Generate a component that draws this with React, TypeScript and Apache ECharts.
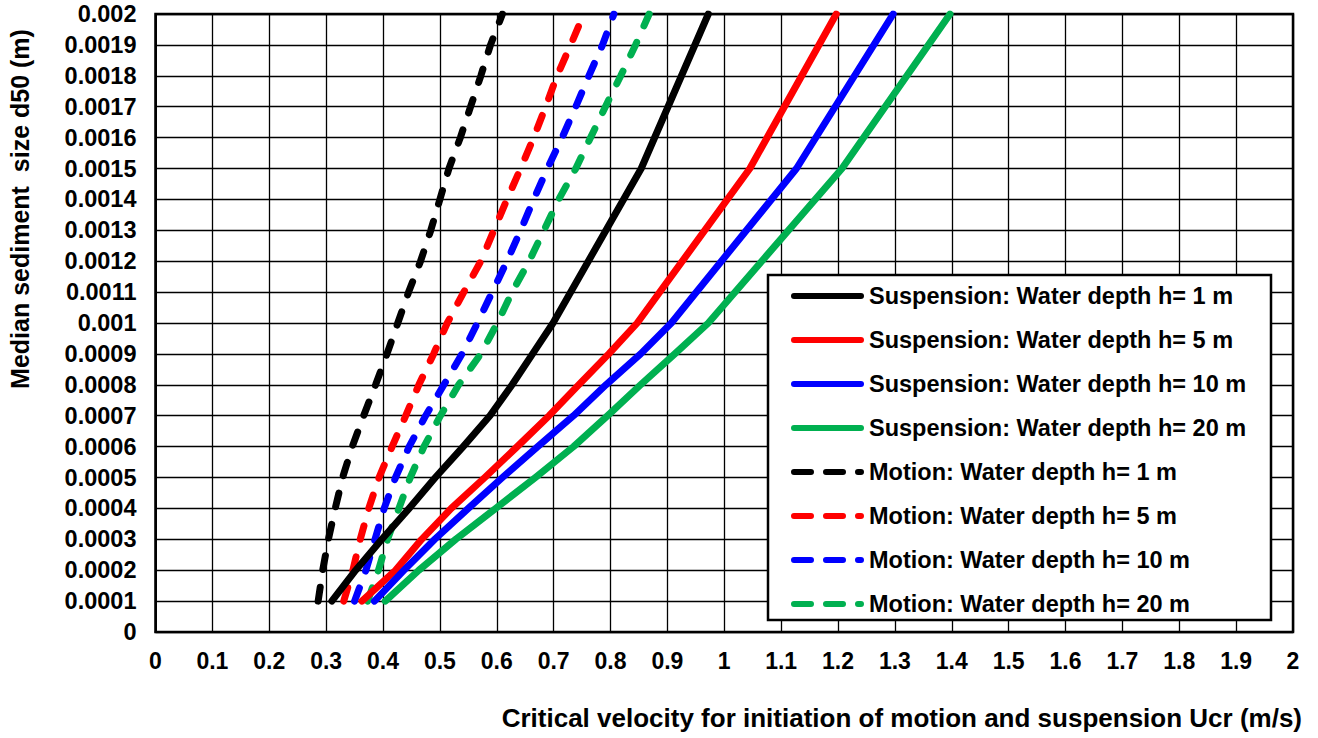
import React, { useEffect, useRef } from "react";
import * as echarts from "echarts";

// Median sediment size d50 (m) levels
const dSuspension = [0.0001, 0.0002, 0.0003, 0.0004, 0.0005, 0.0006, 0.0007, 0.0008, 0.0009, 0.001, 0.0015, 0.002];
const dMotion = [0.0001, 0.0002, 0.0003, 0.0004, 0.0005, 0.0006, 0.0007, 0.0008, 0.0009, 0.001, 0.0011, 0.0012, 0.0013, 0.0014, 0.0015, 0.0016, 0.0017, 0.0018, 0.0019, 0.002];

// Critical velocity Ucr (m/s) for suspension
const suspH1 = [0.31, 0.352, 0.398, 0.446, 0.492, 0.541, 0.588, 0.627, 0.663, 0.699, 0.854, 0.972];
const suspH5 = [0.363, 0.422, 0.468, 0.52, 0.579, 0.636, 0.692, 0.744, 0.797, 0.847, 1.045, 1.197];
const suspH10 = [0.385, 0.437, 0.491, 0.55, 0.61, 0.672, 0.735, 0.792, 0.853, 0.907, 1.127, 1.297];
const suspH20 = [0.404, 0.463, 0.528, 0.598, 0.668, 0.735, 0.795, 0.853, 0.913, 0.972, 1.207, 1.397];

// Critical velocity Ucr (m/s) for initiation of motion
const motH1 = [0.286, 0.294, 0.304, 0.316, 0.329, 0.346, 0.366, 0.387, 0.407, 0.426, 0.445, 0.466, 0.484, 0.5, 0.516, 0.536, 0.554, 0.572, 0.589, 0.61];
const motH5 = [0.331, 0.347, 0.36, 0.375, 0.393, 0.416, 0.44, 0.463, 0.489, 0.513, 0.542, 0.572, 0.595, 0.618, 0.642, 0.665, 0.686, 0.706, 0.73, 0.753];
const motH10 = [0.35, 0.37, 0.386, 0.402, 0.422, 0.446, 0.475, 0.507, 0.539, 0.566, 0.592, 0.618, 0.642, 0.665, 0.689, 0.715, 0.739, 0.762, 0.786, 0.806];
const motH20 = [0.373, 0.392, 0.408, 0.428, 0.448, 0.472, 0.501, 0.533, 0.572, 0.601, 0.627, 0.657, 0.683, 0.709, 0.739, 0.765, 0.791, 0.818, 0.844, 0.868];

const seriesNames = [
  "Suspension: Water depth h= 1 m",
  "Suspension: Water depth h= 5 m",
  "Suspension: Water depth h= 10 m",
  "Suspension: Water depth h= 20 m",
  "Motion: Water depth h= 1 m",
  "Motion: Water depth h= 5 m",
  "Motion: Water depth h= 10 m",
  "Motion: Water depth h= 20 m",
];
const colors = ["#000000", "#FF0000", "#0000FF", "#00B050"];

const FONT = "'Liberation Sans', Arial, sans-serif";

const seg = (a: number, b: number) =>
  `M${a + 3},0 H${b - 3} A3,3 0 0 1 ${b - 3},6 H${a + 3} A3,3 0 0 1 ${a + 3},0 Z`;
const SOLID_ICON = "path://" + seg(0, 73);
const DASH_ICON = "path://" + seg(0, 23) + " " + seg(32, 55) + " " + seg(64, 73);

export default function App() {
  const ref = useRef<HTMLDivElement>(null);
  useEffect(() => {
    if (!ref.current) return;
    const chart = echarts.init(ref.current, undefined, { renderer: "svg" });
    const susp = [suspH1, suspH5, suspH10, suspH20];
    const mot = [motH1, motH5, motH10, motH20];
    const series: any[] = [];
    mot.forEach((u, i) => {
      series.push({
        name: seriesNames[4 + i],
        type: "line",
        symbol: "none",
        data: dMotion.map((d, k) => [u[k], d]),
        color: colors[i],
        lineStyle: { color: colors[i], width: 7, type: [14, 18], cap: "round" },
        z: 2,
      });
    });
    susp.forEach((u, i) => {
      series.push({
        name: seriesNames[i],
        type: "line",
        symbol: "none",
        data: dSuspension.map((d, k) => [u[k], d]),
        color: colors[i],
        lineStyle: { color: colors[i], width: 7, type: "solid", cap: "round", join: "round" },
        z: 2,
      });
    });
    chart.setOption({
      animation: false,
      backgroundColor: "#ffffff",
      grid: {
        left: 155.5,
        top: 14,
        right: 25,
        bottom: 106,
        show: true,
        borderColor: "#000",
        borderWidth: 2.5,
        containLabel: false,
      },
      xAxis: {
        type: "value",
        min: 0,
        max: 2,
        interval: 0.1,
        axisLine: { show: true, lineStyle: { color: "#000", width: 2 } },
        axisTick: { show: false },
        splitLine: { show: true, lineStyle: { color: "#000", width: 1.3 } },
        axisLabel: {
          margin: 17,
          fontSize: 23,
          fontWeight: "bold",
          fontFamily: FONT,
          color: "#000",
          formatter: (v: number) => String(+v.toFixed(1)),
        },
      },
      yAxis: {
        type: "value",
        min: 0,
        max: 0.002,
        interval: 0.0001,
        axisLine: { show: true, lineStyle: { color: "#000", width: 2 } },
        axisTick: { show: false },
        splitLine: { show: true, lineStyle: { color: "#000", width: 1.3 } },
        axisLabel: {
          margin: 19,
          fontSize: 23.5,
          fontWeight: "bold",
          fontFamily: FONT,
          color: "#000",
          formatter: (v: number) => String(+v.toFixed(4)),
        },
      },
      legend: {
        orient: "vertical",
        left: 791,
        top: 284,
        padding: 0,
        itemWidth: 73,
        itemHeight: 6,
        itemGap: 20,
        itemStyle: { borderWidth: 0 },
        data: seriesNames.map((n, i) => ({ name: n, icon: i < 4 ? SOLID_ICON : DASH_ICON })),
        textStyle: { fontSize: 23.5, fontWeight: "bold", fontFamily: FONT, color: "#000", lineHeight: 24 },
        z: 5,
      },
      graphic: [
        {
          type: "rect",
          z: 3,
          shape: { x: 768, y: 275, width: 503, height: 345 },
          style: { fill: "#fff", stroke: "#000", lineWidth: 2.5 },
        },
        {
          type: "text",
          x: 1302,
          y: 718,
          style: {
            text: "Critical velocity for initiation of motion and suspension Ucr (m/s)",
            fontSize: 26,
            fontWeight: "bold",
            fontFamily: FONT,
            fill: "#000",
            textAlign: "right",
            textVerticalAlign: "middle",
          },
        },
        {
          type: "text",
          x: 20,
          y: 209,
          rotation: Math.PI / 2,
          style: {
            text: "Median sediment  size d50 (m)",
            fontSize: 25,
            fontWeight: "bold",
            fontFamily: FONT,
            fill: "#000",
            textAlign: "center",
            textVerticalAlign: "middle",
          },
        },
      ],
      series,
    });
    return () => chart.dispose();
  }, []);
  return (
    <div
      ref={ref}
      style={{ position: "absolute", left: 0, top: 0, width: 1318, height: 738 }}
    />
  );
}
